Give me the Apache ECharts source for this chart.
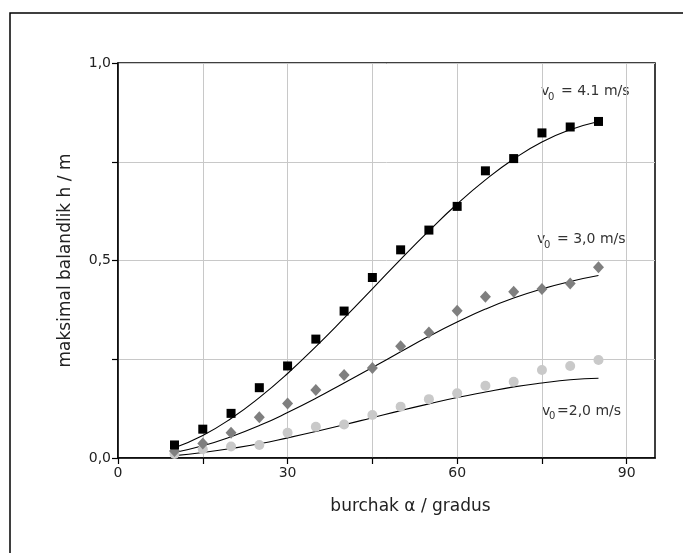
<!DOCTYPE html>
<html>
<head>
<meta charset="utf-8">
<script src="https://cdn.jsdelivr.net/npm/echarts@6/dist/echarts.min.js"></script>
<style>html,body{margin:0;padding:0;background:#fff}#c{width:683px;height:553px}</style>
</head>
<body>
<div id="c"></div>
<script>
const angles = [10,15,20,25,30,35,40,45,50,55,60,65,70,75,80,85];
// measured points
const meas41 = [0.033,0.073,0.113,0.178,0.233,0.301,0.372,0.457,0.527,0.577,0.637,0.727,0.758,0.823,0.838,0.852];
const meas30 = [0.018,0.037,0.064,0.103,0.138,0.172,0.210,0.228,0.283,0.318,0.373,0.408,0.421,0.428,0.442,0.483];
const meas20 = [0.010,0.022,0.029,0.033,0.064,0.079,0.085,0.109,0.130,0.149,0.164,0.183,0.193,0.223,0.233,0.248];
// curves
const curve41 = [0.026,0.057,0.100,0.153,0.214,0.282,0.354,0.428,0.503,0.575,0.643,0.704,0.757,0.800,0.831,0.852];
const curve30 = [0.014,0.031,0.054,0.082,0.115,0.151,0.190,0.229,0.269,0.308,0.344,0.377,0.405,0.428,0.447,0.462];
const curve20 = [0.006,0.014,0.024,0.036,0.051,0.067,0.084,0.102,0.120,0.137,0.153,0.167,0.180,0.190,0.198,0.202];
const xTickLabels = [0,30,60,90];
const yTickLabels = ['0,0','0,5','1,0'];
const xName = 'burchak \u03b1 / gradus';
const yName = 'maksimal balandlik h / m';

const pairs = (ys) => angles.map((a,i)=>[a, ys[i]]);
const FONT = 'DejaVu Sans';
const chart = echarts.init(document.getElementById('c'), null, {renderer:'canvas'});

const lineS = (ys) => ({type:'line', data:pairs(ys), smooth:true, showSymbol:false, symbol:'none',
  lineStyle:{color:'#000', width:1.1}, z:2, silent:true});
const txt = (x,y,s,size) => ({type:'text', x:x, y:y, style:{text:s, fontFamily:FONT, fontSize:size, fill:'#333', verticalAlign:'middle', align:'left'}});

chart.setOption({
  animation:false,
  backgroundColor:'#fff',
  grid:{left:118, top:63, right:28, bottom:95, show:true, borderColor:'#000', borderWidth:1.5, backgroundColor:'transparent'},
  xAxis:{type:'value', min:0, max:95, interval:15,
    name:xName, nameLocation:'middle', nameGap:40,
    nameTextStyle:{fontFamily:FONT, fontSize:17, color:'#222', padding:[0,0,0,48]},
    axisLine:{show:true, lineStyle:{color:'#000', width:1.5}},
    axisTick:{show:true, inside:false, length:6, lineStyle:{color:'#000', width:1.2}, customValues:[0,15,30,45,60,75,90]},
    axisLabel:{fontFamily:FONT, fontSize:14, color:'#222', margin:8, customValues:xTickLabels},
    splitLine:{show:true, lineStyle:{color:'#c8c8c8', width:1}}
  },
  yAxis:{type:'value', min:0, max:1, interval:0.25,
    name:yName, nameLocation:'middle', nameGap:44, nameRotate:90,
    nameTextStyle:{fontFamily:FONT, fontSize:17, color:'#222'},
    axisLine:{show:true, lineStyle:{color:'#000', width:1.5}},
    axisTick:{show:true, inside:false, length:6, lineStyle:{color:'#000', width:1.2}},
    axisLabel:{fontFamily:FONT, fontSize:14, color:'#222', margin:7, customValues:[0,0.5,1],
      formatter:(v)=> v===0?yTickLabels[0]:(v===0.5?yTickLabels[1]:yTickLabels[2])},
    splitLine:{show:true, lineStyle:{color:'#c8c8c8', width:1}}
  },
  series:[
    lineS(curve41), lineS(curve30), lineS(curve20),
    {type:'scatter', data:pairs(meas20), symbol:'circle', symbolSize:10, itemStyle:{color:'#c9c9c9', opacity:1}, z:3},
    {type:'scatter', data:pairs(meas30), symbol:'diamond', symbolSize:[11,12], itemStyle:{color:'#7f7f7f', opacity:1}, z:3},
    {type:'scatter', data:pairs(meas41), symbol:'rect', symbolSize:9, itemStyle:{color:'#000', opacity:1}, z:4}
  ],
  graphic:[
    {type:'rect', shape:{x:10, y:13, width:720, height:600}, style:{fill:'none', stroke:'#000', lineWidth:1.5}, z:-1, silent:true},
    txt(541, 91, 'v', 14), txt(548, 97, '0', 10), txt(561, 91, '= 4.1 m/s', 14),
    txt(537, 239, 'v', 14), txt(544, 245, '0', 10), txt(557, 239, '= 3,0 m/s', 14),
    txt(542, 411, 'v', 14), txt(549, 416, '0', 10), txt(557, 411, '=2,0 m/s', 14)
  ]
});
</script>
</body>
</html>
